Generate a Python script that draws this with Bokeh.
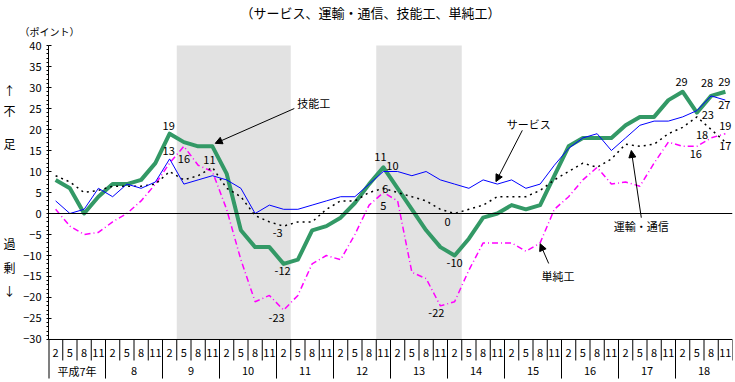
from bokeh.plotting import figure
from bokeh.models import (Range1d, Span, Label, Arrow, NormalHead, SingleIntervalTicker,
                          FixedTicker, LinearAxis, Title)
from bokeh.embed import file_html
from bokeh.resources import INLINE
from bokeh.core.properties import value

# ---------------- data ----------------
year_nums = [7, 8, 9, 10, 11, 12, 13, 14, 15, 16, 17, 18]
year_labels = ["平成7年", "8", "9", "10", "11", "12", "13", "14", "15", "16", "17", "18"]
months = ["2", "5", "8", "11"]

service = [3, 0, 1, 6, 4, 7, 6, 7.5, 13, 7, 8, 9,
           8, 6, 0, 2, 1, 1, 2, 3, 4, 4, 7, 10,
           10, 9, 10, 8, 7, 6, 8, 7, 8, 6, 7, 11.5,
           15.5, 18, 19, 15, 18, 21, 22, 22, 23, 24.5, 28, 27]
transport = [9, 7.5, 5, 5.5, 6.5, 6.5, 6.5, 7, 10, 8, 9, 11,
             6, 4, -0.5, -2, -3, -2, -2, 1, 3, 3, 5, 6,
             5, 4, 3, 1, 0, 1, 2, 4, 4, 4, 5.5, 8,
             10, 12, 11, 13, 16.5, 16, 16.5, 19, 20.5, 23, 20, 17]
skilled = [8, 6, 0, 4, 7, 7, 8, 12, 19, 17, 16, 16,
           9.5, -4, -8, -8, -12, -11, -4, -3, -1, 2.5, 7, 11,
           6, 1, -4, -8, -10, -6, -1, 0, 2, 1, 2, 9,
           16, 18, 18, 18, 21, 23, 23, 27, 29, 24, 28, 29]
unskilled = [1, -3, -5, -4.5, -2, 0, 3, 7, 12, 16, 11.5, 10,
             1, -11, -21, -19.5, -23, -19.5, -12, -10, -11, -5, 2, 5,
             3, -14, -15.5, -22, -21, -13.5, -7, -7, -7, -9, -7, 1,
             4, 8, 11, 7, 7.5, 6.5, 12, 17, 16, 16, 18, 19]

# recession periods (start year, start month, end year, end month)
recessions = [(9, "5", 11, "2"), (12, "11", 14, "2")]

series = {"service": service, "transport": transport,
          "skilled": skilled, "unskilled": unskilled}

title_text = "（サービス、運輸・通信、技能工、単純工）"
unit_text = "（ポイント）"
side_captions = ["↑", "不", "足", "過", "剰", "↓"]

# ---------------- layout ----------------
n = len(year_nums) * len(months)
xs = [i + 0.5 for i in range(n)]


def qidx(y, m):
    return year_nums.index(y) * len(months) + months.index(m)


FONT = "Noto Sans CJK JP"
Y_TOP, Y_BOT = -30, 40
Y_MONTH_ROW = -35.0
Y_END = -40.24
Y_START = 41.67

p = figure(width=735, height=382, x_range=Range1d(0, n), y_range=Range1d(Y_END, Y_START),
           output_backend="svg", toolbar_location=None, x_axis_location=None,
           min_border_left=42, min_border_right=3, min_border_top=38, min_border_bottom=0)
p.grid.visible = False
p.outline_line_color = None
p.background_fill_color = "white"
p.border_fill_color = "white"

# titles: main title on top, unit caption next to the frame
p.title.text = title_text
p.title.align = "left"
p.title.offset = 192
p.title.standoff = 0
p.title.text_font = FONT
p.title.text_font_size = "13px"
p.title.text_font_style = "normal"
p.title.text_color = "black"
p.add_layout(Title(text=unit_text, align="left", offset=-29, standoff=0, text_font=FONT,
                   text_font_size="10px", text_font_style="normal",
                   text_color="black"), "above")

# y axis
ax = p.yaxis[0]
ax.bounds = (Y_TOP, Y_BOT)
ax.ticker = SingleIntervalTicker(interval=5, num_minor_ticks=5)
ax.axis_line_color = "black"
ax.major_tick_line_color = "black"
ax.minor_tick_line_color = "black"
ax.major_tick_in = 3
ax.major_tick_out = 0
ax.minor_tick_in = 0
ax.minor_tick_out = 2
ax.major_label_standoff = 5
ax.major_label_text_font = FONT
ax.major_label_text_font_size = "11px"
ax.major_label_text_color = "black"

# outer caption axis: 不足 (shortage) / 過剰 (surplus)
cap_pos = [29.3, 24.5, 16.7, -7.1, -12.9, -18.3]
cap_axis = LinearAxis(ticker=FixedTicker(ticks=cap_pos),
                      major_label_overrides=dict(zip(cap_pos, side_captions)),
                      axis_line_color=None, major_tick_line_color=None,
                      minor_tick_line_color=None, major_tick_out=0, major_tick_in=0,
                      major_label_standoff=5, major_label_text_font=FONT,
                      major_label_text_font_size="12px", major_label_text_color="black")
p.add_layout(cap_axis, "left")

# shaded recession periods
for (sy, sm, ey, em) in recessions:
    p.quad(left=qidx(sy, sm), right=qidx(ey, em) + 1, bottom=Y_TOP, top=Y_BOT,
           fill_color="#e2e2e2", line_color=None)

# zero and bottom lines
p.add_layout(Span(location=0, dimension="width", line_color="black", line_width=1))
p.add_layout(Span(location=Y_TOP, dimension="width", line_color="black", line_width=1))

# category table under the plot
m_sep = [k for k in range(1, n + 1) if k % len(months) != 0] + [n]
y_sep = [k for k in range(0, n, len(months))]
p.segment(x0=m_sep, y0=[Y_TOP] * len(m_sep), x1=m_sep, y1=[Y_MONTH_ROW] * len(m_sep),
          line_color="black", line_width=1)
p.segment(x0=y_sep, y0=[Y_TOP] * len(y_sep), x1=y_sep, y1=[-39.3] * len(y_sep),
          line_color="black", line_width=[2] + [1] * (len(y_sep) - 1))
p.text(x=xs, y=[-33.1] * n, text=months * len(year_nums),
       text_align="center", text_baseline="middle", text_font=value(FONT),
       text_font_size="11px", text_color="black")
p.text(x=[k * len(months) + len(months) / 2 for k in range(len(year_nums))],
       y=[-37.6] * len(year_nums), text=year_labels,
       text_align="center", text_baseline="middle", text_font=value(FONT),
       text_font_size="11px", text_color="black")

# series lines
p.line(xs, skilled, line_color="#339966", line_width=4, line_join="round")
p.line(xs, unskilled, line_color="#ff00ff", line_width=1.5, line_dash="6 3 1 3")
p.line(xs, transport, line_color="black", line_width=1.5, line_dash="2 4")
p.line(xs, service, line_color="#0000ff", line_width=1)

# value labels: (series, index, dx px, dy px downward)
value_labels = [
    ("skilled", 8, -1, -8), ("service", 8, -1, -8), ("unskilled", 9, 0, 13),
    ("transport", 11, -3, -7), ("transport", 16, -6, 7), ("skilled", 16, -1, 7),
    ("unskilled", 16, -7, 8), ("skilled", 23, -3, -10), ("service", 23, 9, -6),
    ("transport", 23, 2, 1), ("unskilled", 23, 0, 13), ("transport", 28, -7, 8),
    ("skilled", 28, 0, 7), ("unskilled", 27, -4, 7), ("skilled", 44, -1, -10),
    ("skilled", 46, -4, -13), ("skilled", 47, -1, -10), ("service", 47, -1, 5),
    ("transport", 45, 11, -2), ("unskilled", 47, 0, -8), ("unskilled", 46, -9, -3),
    ("transport", 47, 0, 4), ("unskilled", 45, -1, 8),
]
for name, i, dx, dy in value_labels:
    v = series[name][i]
    p.add_layout(Label(x=xs[i], y=v, x_offset=dx, y_offset=-dy, text=f"{v:g}",
                       text_align="center", text_baseline="middle", text_font=FONT,
                       text_font_size="11px", text_color="black"))

# series name annotations with arrows: text pos, align, arrow start, arrow end
name_notes = [
    ("技能工", 17.45, 26.4, "left", (17.25, 25.0), (11.7, 16.7)),
    ("サービス", 33.7, 21.4, "center", (33.25, 19.8), (31.4, 7.6)),
    ("運輸・通信", 41.6, -2.9, "center", (41.6, -1.0), (40.9, 15.0)),
    ("単純工", 35.75, -14.8, "center", (35.1, -11.9), (34.5, -7.2)),
]
for txt, tx, ty, al, (x0, y0), (x1, y1) in name_notes:
    p.add_layout(Label(x=tx, y=ty, text=txt, text_align=al, text_baseline="middle",
                       text_font=FONT, text_font_size="11px", text_color="black"))
    p.add_layout(Arrow(end=NormalHead(size=7, fill_color="black", line_color="black",
                                      line_width=1),
                       x_start=x0, y_start=y0, x_end=x1, y_end=y1,
                       line_color="black", line_width=1))

open("out.html", "w").write(file_html(p, INLINE))
